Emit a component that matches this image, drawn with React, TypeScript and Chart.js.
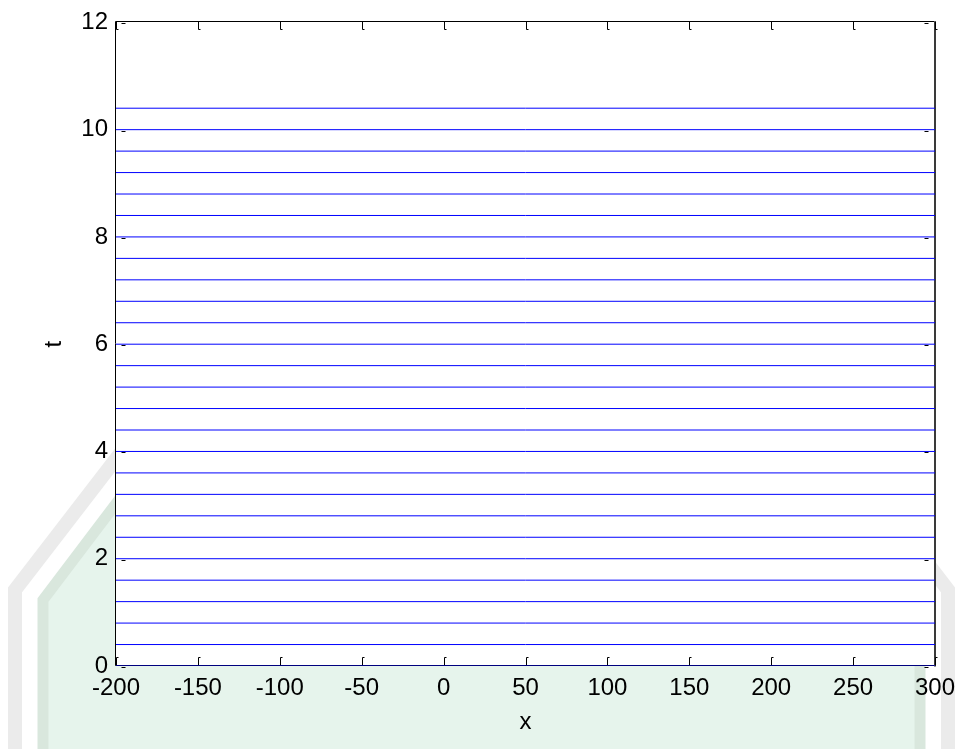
import React, { useEffect, useRef } from "react";
import { Chart, registerables } from "chart.js";

Chart.register(...registerables);

// ---- data ----
const xRange = [-200, 300];
const tLevels = [
  0, 0.4, 0.8, 1.2, 1.6, 2.0, 2.4, 2.8, 3.2, 3.6, 4.0, 4.4, 4.8, 5.2, 5.6, 6.0,
  6.4, 6.8, 7.2, 7.6, 8.0, 8.4, 8.8, 9.2, 9.6, 10.0, 10.4,
];
const xTicks = [-200, -150, -100, -50, 0, 50, 100, 150, 200, 250, 300];
const yTicks = [0, 2, 4, 6, 8, 10, 12];
const xTitle = "x";
const yTitle = "t";
const lineColor = "#0000ff";

const FONT = "'Liberation Sans', Arial, Helvetica, sans-serif";

const framePlugin = {
  id: "matlabFrame",
  beforeDraw(chart: any) {
    const { ctx, width, height, chartArea: a } = chart;
    ctx.save();
    ctx.fillStyle = "#ffffff";
    ctx.fillRect(0, 0, width, height);
    // faint background emblem (watermark)
    const outer = [
      [15, height + 60],
      [15, 590],
      [250, 285],
      [width - 250, 285],
      [width - 16, 590],
      [width - 16, height + 60],
    ];
    const inner = [
      [43, height + 60],
      [43, 600],
      [255, 320],
      [width - 255, 320],
      [width - 44, 600],
      [width - 44, height + 60],
    ];
    const path = (pts: number[][]) => {
      ctx.beginPath();
      pts.forEach((p, i) => (i ? ctx.lineTo(p[0], p[1]) : ctx.moveTo(p[0], p[1])));
    };
    path(inner);
    ctx.closePath();
    ctx.fillStyle = "#e6f4ec";
    ctx.fill();
    ctx.lineWidth = 11;
    ctx.strokeStyle = "#d9e7dd";
    path(inner);
    ctx.stroke();
    ctx.lineWidth = 14;
    ctx.strokeStyle = "#ebebeb";
    path(outer);
    ctx.stroke();
    // white axes background
    ctx.fillStyle = "#ffffff";
    ctx.fillRect(a.left, a.top, a.right - a.left, a.bottom - a.top);
    ctx.restore();
  },
  beforeDatasetsDraw(chart: any) {
    const { ctx, chartArea: a, scales } = chart;
    const xs = scales.x;
    const ys = scales.y;
    ctx.save();
    ctx.strokeStyle = "#000000";
    ctx.lineWidth = 1;
    const L = Math.round(a.left) - 0.5;
    const R = Math.round(a.right) - 0.5;
    const T = Math.round(a.top) - 0.5;
    const B = Math.round(a.bottom) - 0.5;
    ctx.beginPath();
    ctx.moveTo(L, T);
    ctx.lineTo(R, T);
    ctx.moveTo(L, T);
    ctx.lineTo(L, B);
    ctx.moveTo(L, B);
    ctx.lineTo(R, B);
    ctx.stroke();
    ctx.strokeStyle = "#3a3a3a";
    ctx.lineWidth = 2;
    ctx.beginPath();
    ctx.moveTo(R + 0.5, T);
    ctx.lineTo(R + 0.5, B + 1);
    ctx.stroke();
    // inward ticks
    ctx.strokeStyle = "#000000";
    ctx.lineWidth = 1;
    ctx.beginPath();
    xs.ticks.forEach((t: any) => {
      const px = Math.round(xs.getPixelForValue(t.value)) + 0.5;
      ctx.moveTo(px, B);
      ctx.lineTo(px, B - 8);
      ctx.lineTo(px + 2, B - 8);
      ctx.moveTo(px, T);
      ctx.lineTo(px, T + 8);
      ctx.lineTo(px + 2, T + 8);
    });
    ys.ticks.forEach((t: any) => {
      const py = Math.round(ys.getPixelForValue(t.value)) + 1.5;
      ctx.moveTo(L + 6, py);
      ctx.lineTo(L + 10, py);
      ctx.moveTo(R - 6, py);
      ctx.lineTo(R - 10, py);
    });
    ctx.stroke();
    ctx.restore();
  },
  afterDraw(chart: any) {
    const { ctx, chartArea: a } = chart;
    ctx.save();
    ctx.fillStyle = "#000000";
    ctx.font = `24px ${FONT}`;
    ctx.textAlign = "center";
    ctx.textBaseline = "alphabetic";
    ctx.fillText(xTitle, (a.left + a.right) / 2, a.bottom + 63);
    ctx.translate(a.left - 55, (a.top + a.bottom) / 2);
    ctx.rotate(-Math.PI / 2);
    ctx.fillText(yTitle, 0, 0);
    ctx.restore();
  },
};

export default function App() {
  const ref = useRef<HTMLCanvasElement | null>(null);
  useEffect(() => {
    document.body.style.margin = "0";
    const canvas = ref.current;
    if (!canvas) return;
    const chart = new Chart(canvas, {
      type: "line",
      data: {
        datasets: tLevels.map((t) => ({
          label: `t=${t}`,
          data: xRange.map((x) => ({ x, y: t })),
          borderColor: lineColor,
          borderWidth: 1,
          pointRadius: 0,
          fill: false,
        })),
      },
      options: {
        responsive: false,
        animation: false,
        devicePixelRatio: 1,
        layout: { padding: { top: 19, right: 29, left: 0, bottom: 0 } },
        plugins: {
          legend: { display: false },
          tooltip: { enabled: false },
        },
        scales: {
          x: {
            type: "linear",
            min: xTicks[0],
            max: xTicks[xTicks.length - 1],
            afterBuildTicks: (s: any) => {
              s.ticks = xTicks.map((v) => ({ value: v }));
            },
            afterFit: (s: any) => {
              s.height = 83;
            },
            grid: { display: false, drawTicks: false },
            border: { display: false },
            ticks: {
              autoSkip: false,
              maxRotation: 0,
              padding: 8,
              color: "#000000",
              font: { family: FONT, size: 24 },
            },
          },
          y: {
            type: "linear",
            min: yTicks[0],
            max: yTicks[yTicks.length - 1],
            afterBuildTicks: (s: any) => {
              s.ticks = yTicks.map((v) => ({ value: v }));
            },
            afterFit: (s: any) => {
              s.width = 116;
            },
            grid: { display: false, drawTicks: false },
            border: { display: false },
            ticks: {
              autoSkip: false,
              padding: 8,
              color: "#000000",
              font: { family: FONT, size: 24 },
            },
          },
        },
      },
      plugins: [framePlugin],
    } as any);
    return () => chart.destroy();
  }, []);
  return (
    <div style={{ width: 964, height: 749 }}>
      <canvas ref={ref} width={964} height={749} style={{ display: "block" }} />
    </div>
  );
}
